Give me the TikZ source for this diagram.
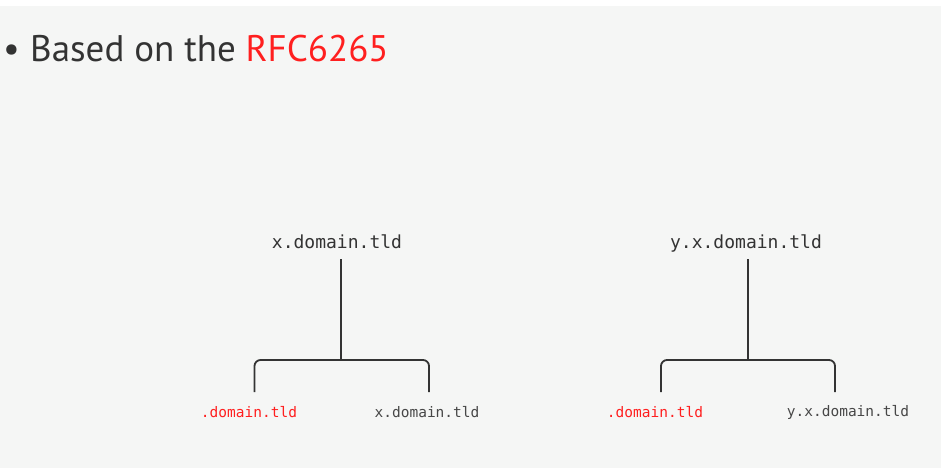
\documentclass[tikz,border=0pt]{standalone}
\usepackage{fontspec}
\setmainfont{PT Sans}
\setmonofont{DejaVu Sans Mono}
\usepackage{xcolor}
\usepackage{tikz}
\definecolor{slide}{HTML}{F5F6F5}
\definecolor{ink}{HTML}{333333}
\definecolor{rfcred}{HTML}{FF1F1F}

\tikzset{
    root/.style={font=\ttfamily\fontsize{18}{20}\selectfont, text=ink, inner sep=0pt, anchor=base},
    leaf/.style={font=\ttfamily\fontsize{14.5}{16}\selectfont, text=ink!90, inner sep=0pt, anchor=base},
    branch/.style={draw=ink, line width=1.8pt},
}

\begin{document}
\begin{tikzpicture}[x=1pt,y=-1pt]
        \useasboundingbox (0,0) rectangle (941,468);
        \fill [white] (0,0) rectangle (941,468);
        \fill [slide] (0,6) rectangle (941,468);
        
        %% Title line
        \node (bullet) [text=ink, font=\fontsize{37}{42}\selectfont, inner sep=0pt, anchor=base] at (11.5,62) {\textbullet};
        \node (title) [text=ink, font=\fontsize{37}{42}\selectfont, inner sep=0pt, anchor=base west] at (30,62) {Based on the \textcolor{rfcred}{RFC6265}};
        
        %% Left tree
        \node (x) [root] at (337,248) {x.domain.tld};
        \coordinate (xj) at (341,360);
        \coordinate (xl) at (254.5,392);
        \coordinate (xr) at (429,392);
        \node (xd) [leaf, text=rfcred] at (249,417) {.domain.tld};
        \node (xx) [leaf] at (427,417) {x.domain.tld};
        
        \draw [branch] (341,259) -- (xj);
        \draw [branch, rounded corners=6pt] (xl) |- (xj) -| (xr);
        
        %% Right tree
        \node (y) [root] at (746,248) {y.x.domain.tld};
        \coordinate (yj) at (748,360);
        \coordinate (yl) at (661,392);
        \coordinate (yr) at (835,392);
        \node (yd) [leaf, text=rfcred] at (655,417) {.domain.tld};
        \node (yy) [leaf] at (848,416) {y.x.domain.tld};
        
        \draw [branch] (748,259) -- (yj);
        \draw [branch, rounded corners=6pt] (yl) |- (yj) -| (yr);
    \end{tikzpicture}
\end{document}
